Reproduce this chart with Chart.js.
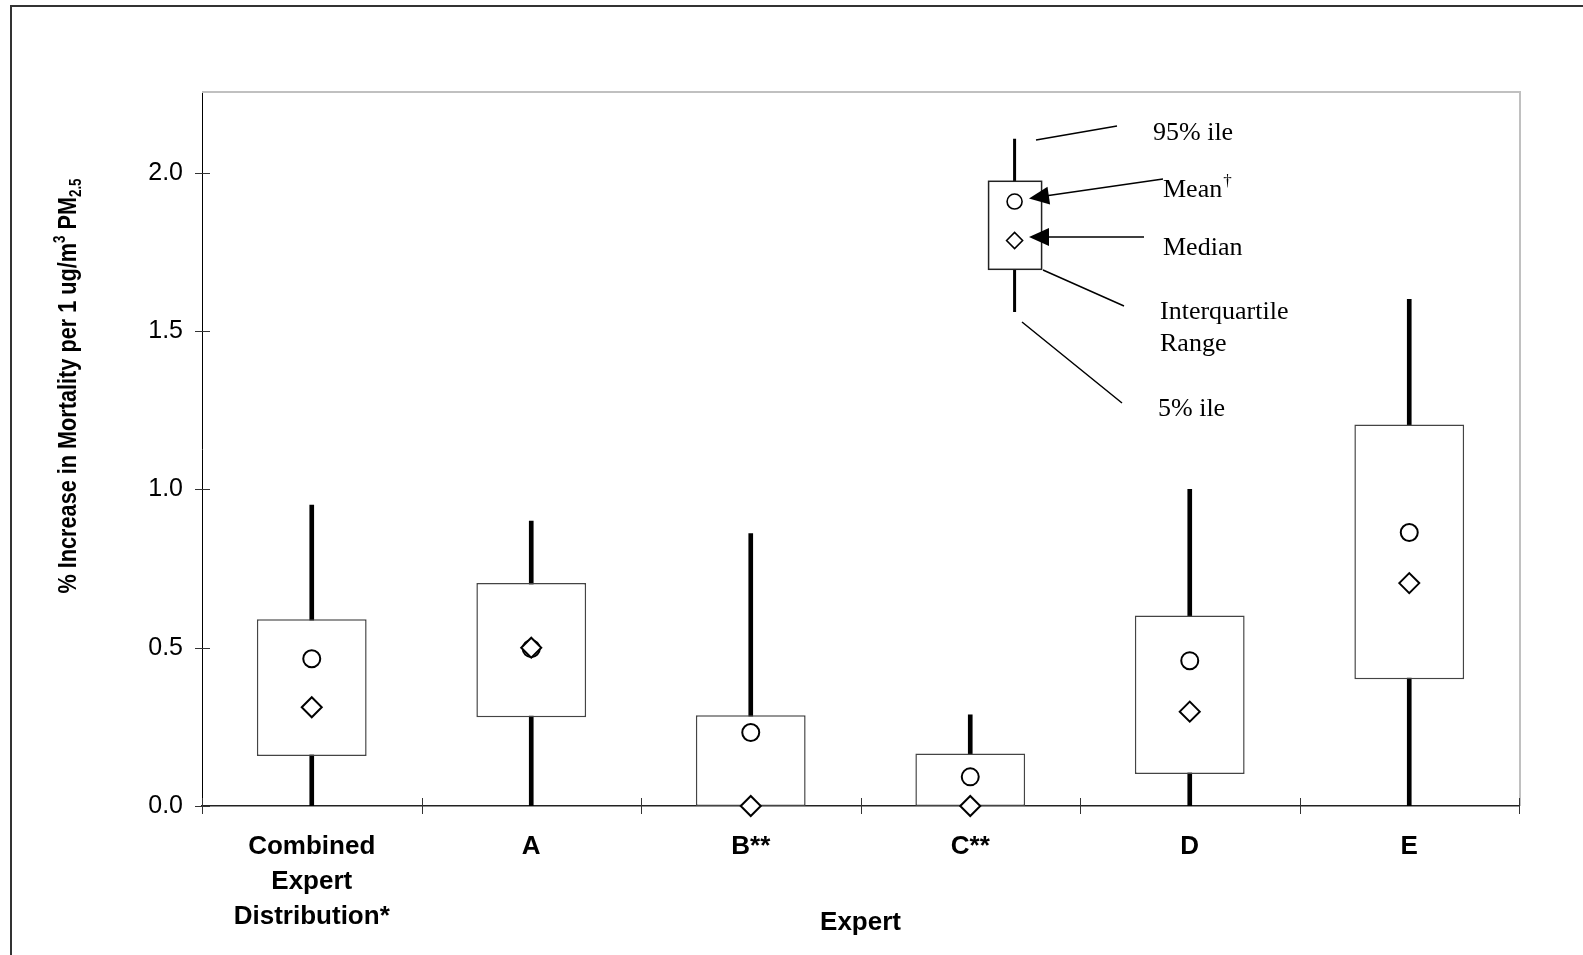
<!DOCTYPE html>
<html>
<head>
<meta charset="utf-8">
<script src="https://cdn.jsdelivr.net/npm/chart.js@4"></script>
<style>
  body { margin: 0; background: #fff; }
  #wrap { width: 1583px; height: 955px; position: relative; }
</style>
</head>
<body>
<div id="wrap"><canvas id="chart"></canvas></div>
<script>
// experts on the x axis
const categories = [["Combined", "Expert", "Distribution*"], "A", "B**", "C**", "D", "E"];

// percentiles per expert (% increase per 1 ug/m3)
const p5 = [0, 0, 0, 0, 0, 0];
const q1 = [0.158, 0.28, 0, 0, 0.101, 0.40];
const median = [0.312, 0.50, 0, 0, 0.298, 0.704];
const mean = [0.465, 0.497, 0.232, 0.092, 0.459, 0.864];
const q3 = [0.59, 0.704, 0.287, 0.166, 0.602, 1.205];
const p95 = [0.95, 0.90, 0.86, 0.288, 1.0, 1.60];

// y ticks
const yTicks = [0, 0.5, 1.0, 1.5, 2.0];

// the little key box drawn in the upper right (values on the y scale)
const keyValues = { p5: 1.56, q1: 1.695, median: 1.786, mean: 1.909, q3: 1.973, p95: 2.107 };

const SANS = "'Liberation Sans', Arial, sans-serif";
const SERIF = "'Liberation Serif', 'Times New Roman', serif";

const frame = {
  id: "frame",
  beforeDatasetsDraw(chart) {
    const { ctx, chartArea: a } = chart;
    ctx.save();
    // outer figure border
    ctx.strokeStyle = "#333";
    ctx.lineWidth = 2;
    ctx.strokeRect(11, 6, 1700, 1100);
    // light plot frame top + right
    ctx.strokeStyle = "#c0c0c0";
    ctx.beginPath();
    ctx.moveTo(a.left, a.top);
    ctx.lineTo(a.right + 1, a.top);
    ctx.lineTo(a.right + 1, a.bottom);
    ctx.stroke();
    ctx.restore();
  },
  afterDatasetsDraw(chart) {
    const { ctx, chartArea: a, scales } = chart;
    const x = scales.x, y = scales.y;
    ctx.save();
    // crossing tick marks
    ctx.strokeStyle = "#333";
    ctx.lineWidth = 1;
    ctx.beginPath();
    yTicks.forEach(v => {
      const py = Math.round(y.getPixelForValue(v)) + 0.5;
      ctx.moveTo(a.left - 7, py);
      ctx.lineTo(a.left + 8, py);
    });
    const half = (x.getPixelForValue(1) - x.getPixelForValue(0)) / 2;
    for (let i = 0; i <= categories.length; i++) {
      const px = Math.round(x.getPixelForValue(i) - half) + 0.5;
      ctx.moveTo(px, a.bottom - 8);
      ctx.lineTo(px, a.bottom + 8);
    }
    ctx.stroke();

    // key box
    const cx = a.left + 0.617 * (a.right - a.left);
    const yp = v => y.getPixelForValue(v);
    ctx.strokeStyle = "#000";
    ctx.lineWidth = 3;
    ctx.beginPath();
    ctx.moveTo(cx, yp(keyValues.p95)); ctx.lineTo(cx, yp(keyValues.q3));
    ctx.moveTo(cx, yp(keyValues.q1)); ctx.lineTo(cx, yp(keyValues.p5));
    ctx.stroke();
    ctx.lineWidth = 1.5;
    ctx.strokeStyle = "#222";
    ctx.fillStyle = "#fff";
    ctx.fillRect(cx - 26, yp(keyValues.q3), 53, yp(keyValues.q1) - yp(keyValues.q3));
    ctx.strokeRect(cx - 26, yp(keyValues.q3), 53, yp(keyValues.q1) - yp(keyValues.q3));
    ctx.strokeStyle = "#000";
    ctx.lineWidth = 1.6;
    ctx.beginPath();
    ctx.arc(cx, yp(keyValues.mean), 7.5, 0, Math.PI * 2);
    ctx.stroke();
    const my = yp(keyValues.median);
    ctx.beginPath();
    ctx.moveTo(cx - 8, my); ctx.lineTo(cx, my - 8); ctx.lineTo(cx + 8, my); ctx.lineTo(cx, my + 8); ctx.closePath();
    ctx.stroke();

    // leader lines
    ctx.lineWidth = 1.5;
    ctx.beginPath();
    ctx.moveTo(1036, 140); ctx.lineTo(1117, 126);
    ctx.moveTo(1163, 179); ctx.lineTo(1045, 196);
    ctx.moveTo(1144, 237); ctx.lineTo(1045, 237);
    ctx.moveTo(1043, 270); ctx.lineTo(1124, 306);
    ctx.moveTo(1022, 322); ctx.lineTo(1122, 403);
    ctx.stroke();
    // arrow heads
    const head = (tx, ty, fx, fy) => {
      const ang = Math.atan2(fy - ty, fx - tx);
      const L = 20, W = 9;
      ctx.beginPath();
      ctx.moveTo(tx, ty);
      ctx.lineTo(tx + L * Math.cos(ang) - W * Math.sin(ang), ty + L * Math.sin(ang) + W * Math.cos(ang));
      ctx.lineTo(tx + L * Math.cos(ang) + W * Math.sin(ang), ty + L * Math.sin(ang) - W * Math.cos(ang));
      ctx.closePath();
      ctx.fillStyle = "#000";
      ctx.fill();
    };
    head(1029, 198.5, 1163, 179);
    head(1029, 237, 1144, 237);

    // key text
    ctx.fillStyle = "#000";
    ctx.font = "26px " + SERIF;
    ctx.textBaseline = "alphabetic";
    ctx.textAlign = "left";
    ctx.fillText("95% ile", 1153, 140);
    ctx.fillText("Mean", 1163, 197);
    const mw = ctx.measureText("Mean").width;
    ctx.fillText("Median", 1163, 255);
    ctx.fillText("Interquartile", 1160, 319);
    ctx.fillText("Range", 1160, 351);
    ctx.fillText("5% ile", 1158, 416);
    ctx.font = "17px " + SERIF;
    ctx.fillText("\u2020", 1163 + mw + 1, 186);

    // x axis title
    ctx.font = "bold 26px " + SANS;
    ctx.textAlign = "center";
    ctx.textBaseline = "middle";
    ctx.fillText("Expert", (a.left + a.right) / 2, 923);

    // y axis title with super/subscript
    const parts = [
      { t: "% Increase in Mortality per 1 ug/m", s: 26, dy: 0 },
      { t: "3", s: 16, dy: -11 },
      { t: " PM", s: 26, dy: 0 },
      { t: "2.5", s: 16, dy: 5 }
    ];
    let total = 0;
    parts.forEach(p => { ctx.font = "bold " + p.s + "px " + SANS; p.w = ctx.measureText(p.t).width; total += p.w; });
    const sc = 415 / total;
    ctx.translate(76, 386);
    ctx.rotate(-Math.PI / 2);
    ctx.scale(sc, 1);
    ctx.textAlign = "left";
    ctx.textBaseline = "alphabetic";
    let pos = -total / 2;
    parts.forEach(p => {
      ctx.font = "bold " + p.s + "px " + SANS;
      ctx.fillText(p.t, pos, p.dy);
      pos += p.w;
    });
    ctx.restore();
  }
};

new Chart(document.getElementById("chart"), {
  type: "bar",
  data: {
    labels: categories,
    datasets: [
      {
        label: "Median",
        type: "line",
        data: median,
        showLine: false,
        pointStyle: "rectRot",
        pointRadius: 10,
        pointBackgroundColor: "#fff",
        pointBorderColor: "#000",
        pointBorderWidth: 2,
        clip: false,
        order: 0
      },
      {
        label: "Mean",
        type: "line",
        data: mean,
        showLine: false,
        pointStyle: "circle",
        pointRadius: 8.5,
        pointBackgroundColor: "#fff",
        pointBorderColor: "#000",
        pointBorderWidth: 2,
        clip: false,
        order: 1
      },
      {
        label: "Interquartile range",
        data: categories.map((_, i) => [q1[i], q3[i]]),
        backgroundColor: "#fff",
        borderColor: "#444",
        borderWidth: 1.5,
        borderSkipped: false,
        barPercentage: 0.5,
        categoryPercentage: 1,
        grouped: false,
        order: 2
      },
      {
        label: "5-95 percentile",
        data: categories.map((_, i) => [p5[i], p95[i]]),
        backgroundColor: "#000",
        barThickness: 4,
        grouped: false,
        order: 3
      }
    ]
  },
  options: {
    responsive: true,
    maintainAspectRatio: false,
    animation: false,
    layout: { padding: { left: 0, top: 92, right: 64, bottom: 0 } },
    plugins: { legend: { display: false }, tooltip: { enabled: false } },
    scales: {
      x: {
        offset: true,
        grid: { display: false, drawTicks: false },
        border: { display: true, color: "#222", width: 1.5 },
        ticks: {
          color: "#000",
          padding: 24,
          maxRotation: 0,
          font: { family: SANS, size: 26, weight: "bold", lineHeight: 1.33 }
        },
        afterFit(scale) { scale.height = 149; }
      },
      y: {
        min: 0,
        max: 2.255,
        grid: { display: false, drawTicks: false },
        border: { display: true, color: "#000", width: 1 },
        ticks: {
          stepSize: 0.5,
          color: "#000",
          padding: 19,
          font: { family: SANS, size: 25 },
          callback: v => v.toFixed(1)
        },
        afterBuildTicks(scale) { scale.ticks = yTicks.map(v => ({ value: v })); },
        afterFit(scale) { scale.width = 202; }
      }
    }
  },
  plugins: [frame]
});
</script>
</body>
</html>
